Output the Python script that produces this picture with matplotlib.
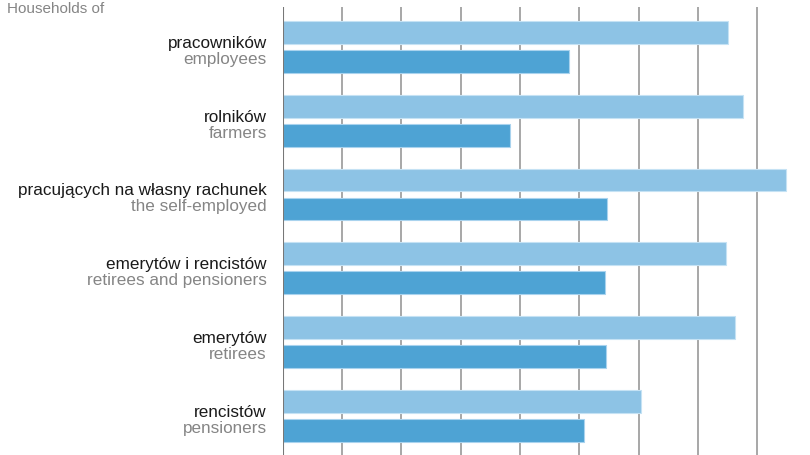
import matplotlib
matplotlib.use('Agg')
import matplotlib.pyplot as plt

plt.rcParams['font.family'] = ['Liberation Sans', 'DejaVu Sans']

labels_pl = ['pracowników', 'rolników', 'pracujących na własny rachunek',
             'emerytów i rencistów', 'emerytów', 'rencistów']
labels_en = ['employees', 'farmers', 'the self-employed',
             'retirees and pensioners', 'retirees', 'pensioners']
light_vals = [7.51, 7.77, 8.48, 7.48, 7.62, 6.04]
dark_vals = [4.82, 3.84, 5.47, 5.43, 5.46, 5.08]

light = '#8dc3e5'
dark = '#4ea3d4'

W, H = 810, 455
fig = plt.figure(figsize=(W / 100, H / 100), dpi=100)
ax = fig.add_axes([282.7 / W, 0, 1 - 282.7 / W, (H - 7) / H])

pos = list(range(len(labels_pl)))
off = 0.196
h = 0.31
ax.barh([p - off for p in pos], light_vals, height=h, color=light,
        edgecolor='#c5e2f4', linewidth=0.8, zorder=3)
ax.barh([p + off for p in pos], dark_vals, height=h, color=dark,
        edgecolor='#a9d3ee', linewidth=0.8, zorder=3)

ax.set_xlim(0, 8.892)
ax.set_ylim(5.525, -0.537)
for x in range(1, 9):
    ax.axvline(x, color='#a0a0a0', lw=1.3, zorder=1)
ax.axvline(0, color='#777777', lw=1.5, zorder=4)

for s in ax.spines.values():
    s.set_visible(False)
ax.set_xticks([])
ax.set_yticks([])

for p, pl, en in zip(pos, labels_pl, labels_en):
    ax.annotate(pl, xy=(0, p), xycoords=('axes fraction', 'data'),
                xytext=(-16, -1), textcoords='offset pixels',
                ha='right', va='baseline', fontsize=12.3, color='#1a1a1a')
    ax.annotate(en, xy=(0, p), xycoords=('axes fraction', 'data'),
                xytext=(-16, -17), textcoords='offset pixels',
                ha='right', va='baseline', fontsize=12.3, color='#858585')

fig.text(7 / W, 1 - 13 / H, 'Households of', ha='left', va='baseline',
         fontsize=11, color='#858585')

fig.savefig('out.png', dpi=100)
